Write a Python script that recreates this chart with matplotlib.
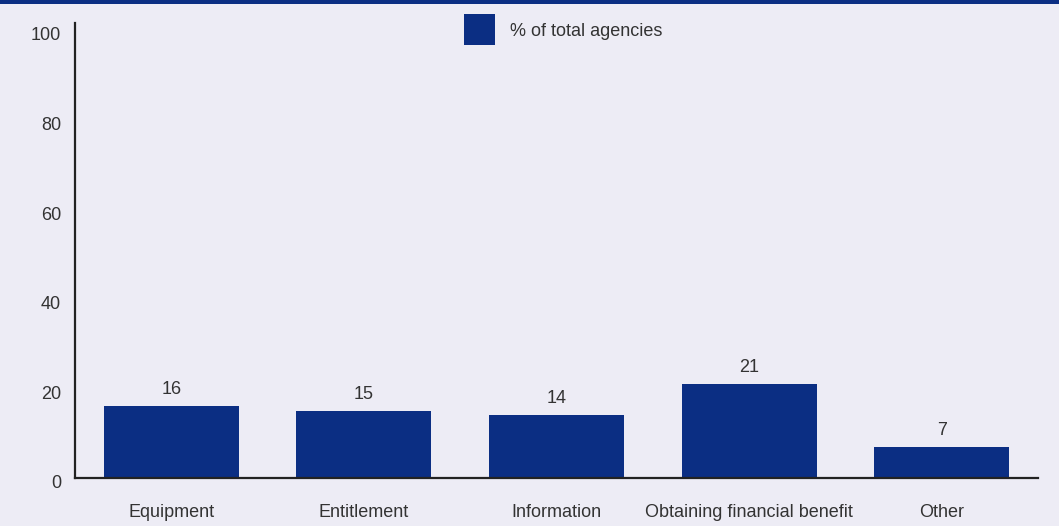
import matplotlib
matplotlib.use("Agg")
import matplotlib.pyplot as plt
import matplotlib.transforms as mtransforms
from matplotlib.patches import Rectangle

categories = ["Equipment", "Entitlement", "Information", "Obtaining financial benefit", "Other"]
values = [16, 15, 14, 21, 7]
yticks = [0, 20, 40, 60, 80, 100]
series_name = "% of total agencies"

BLUE = "#0B2E83"
BG = "#EDECF5"
TEXT = "#333333"

plt.rcParams["font.family"] = ["Liberation Sans", "DejaVu Sans"]
FS = 13

fig = plt.figure(figsize=(10.59, 5.26), dpi=100, facecolor=BG)
ax = fig.add_axes([75 / 1059, 48 / 526, (1038 - 75) / 1059, (478 - 23) / 526])
ax.set_facecolor(BG)

x = list(range(len(categories)))
ax.bar(x, values, width=0.70, color=BLUE, zorder=2)

for xi, v in zip(x, values):
    ax.annotate(str(v), (xi, v), xytext=(0, 8), textcoords="offset pixels",
                ha="center", va="bottom", fontsize=FS, color=TEXT)

ax.set_xlim(-0.5, len(categories) - 0.5)
ax.set_ylim(0, 101.5)
ax.set_yticks(yticks)
ax.set_xticks(x)
ax.set_xticklabels(categories, fontsize=FS, color=TEXT)
ax.tick_params(axis="both", length=0, labelsize=FS, labelcolor=TEXT)
ax.tick_params(axis="y", pad=10)
ax.tick_params(axis="x", pad=19)

# nudge the y tick labels slightly downward
offset = mtransforms.ScaledTranslation(0, -4 / 100, fig.dpi_scale_trans)
for lab in ax.get_yticklabels():
    lab.set_transform(lab.get_transform() + offset)

for side in ("top", "right"):
    ax.spines[side].set_visible(False)
for side in ("left", "bottom"):
    ax.spines[side].set_color("#222222")
    ax.spines[side].set_linewidth(1.6)

# legend entry at the top
fig.patches.append(Rectangle((464 / 1059, 1 - 44.5 / 526), 31 / 1059, 30.5 / 526,
                             transform=fig.transFigure, facecolor=BLUE, edgecolor="none"))
fig.text(510 / 1059, 1 - 31 / 526, series_name, fontsize=FS, color=TEXT, va="center", ha="left")

# header band
fig.patches.append(Rectangle((0, 1 - 3.5 / 526), 1, 3.5 / 526, transform=fig.transFigure,
                             facecolor=BLUE, edgecolor="none"))

fig.savefig("out.png", dpi=100, facecolor=BG)
